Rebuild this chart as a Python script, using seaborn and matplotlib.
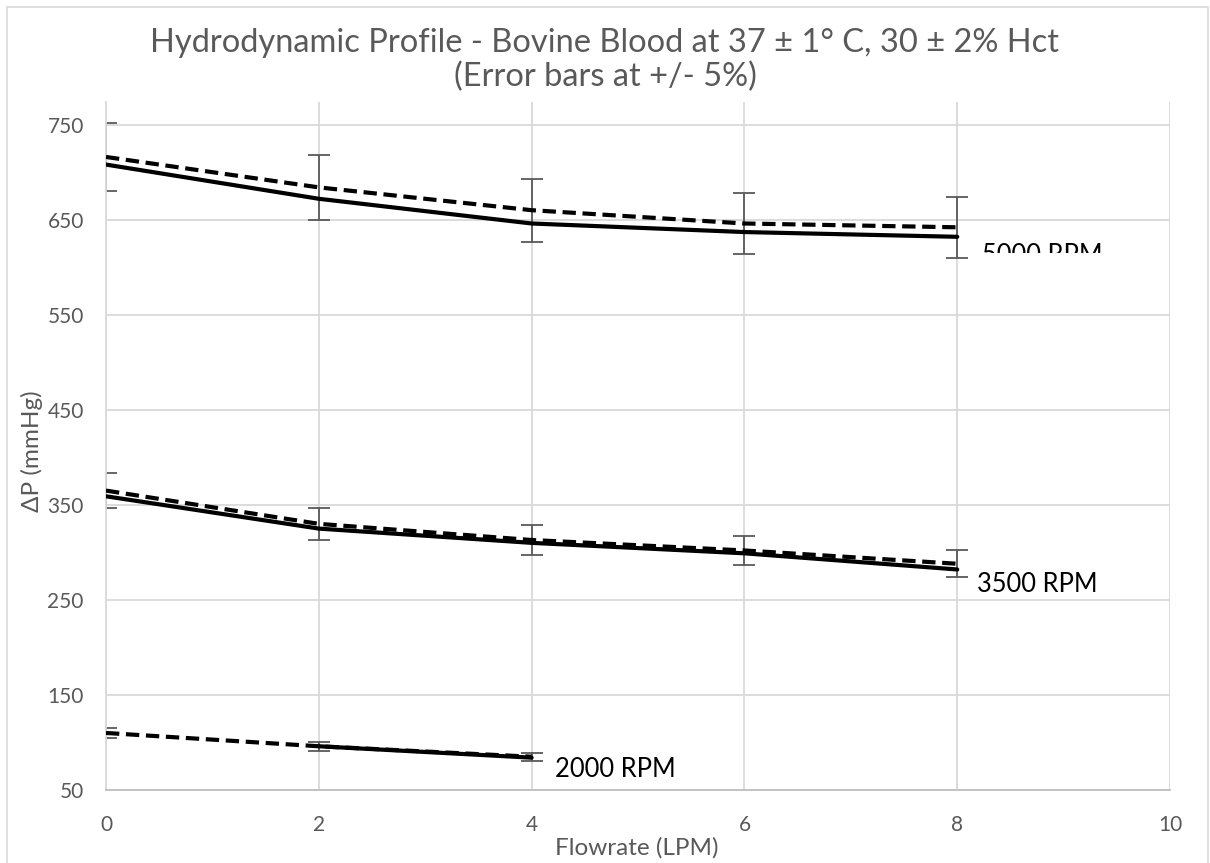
import matplotlib
matplotlib.use('Agg')
import matplotlib.pyplot as plt
import seaborn as sns
from matplotlib.patches import Rectangle

# ── Data ─────────────────────────────────────────────────────
flow = [0, 2, 4, 6, 8]
flow_2000 = [0, 2, 4]

p5000_dash  = [716, 684, 660, 646, 642]
p5000_solid = [708, 672, 646, 637, 632]
p3500_dash  = [365, 330, 313, 302, 288]
p3500_solid = [359, 325, 310, 299, 282]
p2000_dash  = [110, 96, 85]
p2000_solid = [96, 84]          # starts at 2 LPM
flow_2000_solid = [2, 4]

err_frac = 0.05

rpm_labels = ["5000 RPM", "3500 RPM", "2000 RPM"]
label_x    = [8.23, 8.19, 4.22]
label_y    = [604, 258, 64]

title_1 = "Hydrodynamic Profile - Bovine Blood at 37 \u00b1 1\u00b0 C, 30 \u00b1 2% Hct"
title_2 = "(Error bars at +/- 5%)"

# ── Style ────────────────────────────────────────────────────
sns.set_theme(style="white")
plt.rcParams['font.family'] = ['Lato', 'DejaVu Sans']
grey_txt = '#595959'
grid_c   = '#d9d9d9'

fig = plt.figure(figsize=(12.1, 8.63), dpi=100)
ax = fig.add_axes([0.0876, 0.0846, 0.967 - 0.0876, 0.882 - 0.0846])

# outer chart border
fig.patches.append(Rectangle((7 / 1210, -0.05), (1208 - 7) / 1210, 1.05 - 7 / 863,
                             transform=fig.transFigure, fill=False,
                             edgecolor=grid_c, linewidth=1.2))

dash_series  = [(flow, p5000_dash), (flow, p3500_dash), (flow_2000, p2000_dash)]
solid_series = [(flow, p5000_solid), (flow, p3500_solid), (flow_2000_solid, p2000_solid)]

for xs, ys in dash_series:
    yerr = [v * err_frac for v in ys]
    ax.errorbar(xs, ys, yerr=yerr, fmt='none', ecolor=grey_txt,
                elinewidth=1.3, capsize=8, capthick=1.3, zorder=2)
    sns.lineplot(x=xs, y=ys, ax=ax, color='black', linewidth=3,
                 linestyle=(0, (3.2, 1.6)), zorder=3)

for xs, ys in solid_series:
    sns.lineplot(x=xs, y=ys, ax=ax, color='black', linewidth=3, zorder=4)

# ── Axes ─────────────────────────────────────────────────────
ax.set_xlim(0, 10)
ax.set_ylim(50, 774)
ax.set_xticks(range(0, 11, 2))
ax.set_yticks(range(50, 751, 100))
ax.grid(True, color=grid_c, linewidth=1.3)
ax.set_axisbelow(True)
for side in ['top', 'right']:
    ax.spines[side].set_visible(False)
ax.spines['left'].set_color(grid_c)
ax.spines['left'].set_linewidth(1.3)
ax.spines['bottom'].set_color('#bfbfbf')
ax.spines['bottom'].set_linewidth(1.3)
ax.tick_params(axis='both', length=0, labelsize=15, colors=grey_txt)
ax.tick_params(axis='y', pad=16)
ax.tick_params(axis='x', pad=18)

ax.set_xlabel("Flowrate (LPM)", fontsize=17.5, color=grey_txt)
ax.set_ylabel("\u0394P (mmHg)", fontsize=17.5, color=grey_txt)
ax.xaxis.set_label_coords(0.499, -0.068)
ax.yaxis.set_label_coords(-0.059, 0.493)

fig.text(0.5, 1 - 43 / 863, title_1, ha='center', va='center', fontsize=23.5,
         color=grey_txt)
fig.text(0.5, 1 - 77 / 863, title_2, ha='center', va='center', fontsize=23.5,
         color=grey_txt)

# ── RPM labels ───────────────────────────────────────────────
for i, (lab, lx, ly) in enumerate(zip(rpm_labels, label_x, label_y)):
    t = ax.text(lx, ly, lab, fontsize=18.4, color='black', va='baseline',
                ha='left', clip_on=(i == 0))
    if i == 0:
        clip = Rectangle((8.0, 615.3), 2.0, 200, transform=ax.transData)
        t.set_clip_path(clip)

fig.savefig("out.png", dpi=100)
